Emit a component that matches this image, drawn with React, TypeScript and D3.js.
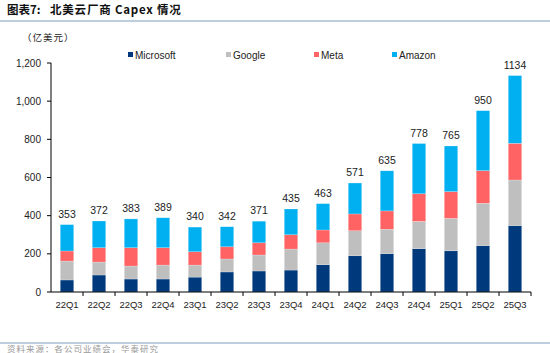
import React from 'react';
import * as d3 from 'd3';

const quarters = ['22Q1', '22Q2', '22Q3', '22Q4', '23Q1', '23Q2', '23Q3', '23Q4', '24Q1', '24Q2', '24Q3', '24Q4', '25Q1', '25Q2', '25Q3'];
const microsoft = [63, 89, 68, 68, 78, 105, 110, 115, 143, 190, 201, 227, 216, 243, 348];
const google = [99, 68, 68, 73, 63, 68, 84, 110, 115, 131, 128, 143, 170, 222, 239];
const meta = [53, 75, 96, 91, 70, 64, 64, 75, 67, 88, 96, 145, 140, 171, 192];
const amazon = [138, 140, 151, 157, 129, 105, 113, 135, 138, 162, 210, 263, 239, 314, 355];
const totals = [353, 372, 383, 389, 340, 342, 371, 435, 463, 571, 635, 778, 765, 950, 1134];
const yTicks = [0, 200, 400, 600, 800, 1000, 1200];

const seriesNames = ['Microsoft', 'Google', 'Meta', 'Amazon'];
const seriesColors = ['#003A7D', '#BFBFBF', '#FF6363', '#00B0F0'];

const W = 550;
const H = 353;
const margin = { left: 51, right: 19, top: 63, bottom: 61 };
const font = 'Arial, "Liberation Sans", sans-serif';
const cjk = '"Noto Sans CJK SC", sans-serif';

export default function App() {
  const table = quarters.map((q, i) => ({
    q,
    Microsoft: microsoft[i],
    Google: google[i],
    Meta: meta[i],
    Amazon: amazon[i],
  }));
  const stacked = d3.stack<any>().keys(seriesNames)(table);

  const x = d3
    .scaleBand()
    .domain(quarters)
    .range([margin.left, W - margin.right])
    .paddingInner(0.58)
    .paddingOuter(0.29);
  const y = d3
    .scaleLinear()
    .domain([0, 1200])
    .range([H - margin.bottom, margin.top]);

  const step = x.step();
  const y0 = y(0);

  const legendX = [128, 226, 314, 392];

  return (
    <svg width={W} height={H} style={{ position: 'absolute', left: 0, top: 0, background: '#fff' }}>
      {/* title */}
      <text x={7} y={14} fontFamily={cjk} fontWeight="bold" fontSize={11.5} fill="#111">
        图表7:
      </text>
      <text x={50} y={14} fontFamily={cjk} fontWeight="bold" fontSize={11.5} fill="#111" letterSpacing={0.8}>
        北美云厂商 Capex 情况
      </text>
      <line x1={0} x2={W} y1={21} y2={21} stroke="#A9BCD6" strokeWidth={1.5} />
      <text x={22} y={41} fontFamily={cjk} fontSize={9.5} fill="#222" letterSpacing={1}>
        （亿美元）
      </text>

      {/* legend */}
      {seriesNames.map((s, i) => (
        <g key={s}>
          <rect x={legendX[i]} y={52} width={5} height={5} fill={seriesColors[i]} />
          <text x={legendX[i] + 7} y={59} fontFamily={font} fontSize={10} fill="#222">
            {s}
          </text>
        </g>
      ))}

      {/* y axis */}
      <line x1={margin.left} x2={margin.left} y1={y(1200)} y2={y0} stroke="#000" strokeWidth={1} />
      {yTicks.map((t) => (
        <g key={t}>
          <line x1={margin.left - 4} x2={margin.left} y1={y(t)} y2={y(t)} stroke="#000" />
          <text x={41} y={y(t) + 3.5} textAnchor="end" fontFamily={font} fontSize={10} fill="#222">
            {d3.format(',')(t)}
          </text>
        </g>
      ))}

      {/* bars */}
      {stacked.map((layer, si) =>
        layer.map((d, i) => (
          <rect
            key={`${si}-${i}`}
            x={x(quarters[i])!}
            y={y(d[1])}
            width={x.bandwidth()}
            height={y(d[0]) - y(d[1])}
            fill={seriesColors[si]}
            stroke="#ffffff"
            strokeOpacity={0.35}
            strokeWidth={0.6}
          />
        ))
      )}

      {/* totals */}
      {quarters.map((q, i) => (
        <text
          key={q}
          x={x(q)! + x.bandwidth() / 2}
          y={y(totals[i]) - 7}
          textAnchor="middle"
          fontFamily={font}
          fontSize={10.5}
          fill="#222"
        >
          {totals[i]}
        </text>
      ))}

      {/* x axis */}
      <line x1={margin.left} x2={W - margin.right} y1={y0} y2={y0} stroke="#000" />
      {quarters.map((q, i) => (
        <g key={q}>
          <line
            x1={margin.left + step * (i + 1)}
            x2={margin.left + step * (i + 1)}
            y1={y0}
            y2={y0 + 4}
            stroke="#000"
          />
          <text
            x={x(q)! + x.bandwidth() / 2}
            y={y0 + 16}
            textAnchor="middle"
            fontFamily={font}
            fontSize={9.5}
            fill="#222"
          >
            {q}
          </text>
        </g>
      ))}

      {/* footer */}
      <line x1={0} x2={W} y1={343} y2={343} stroke="#A9BCD6" strokeWidth={1.5} />
      <text x={7} y={352} fontFamily={cjk} fontSize={8.5} fill="#999" letterSpacing={1}>
        资料来源：各公司业绩会，华泰研究
      </text>
    </svg>
  );
}
